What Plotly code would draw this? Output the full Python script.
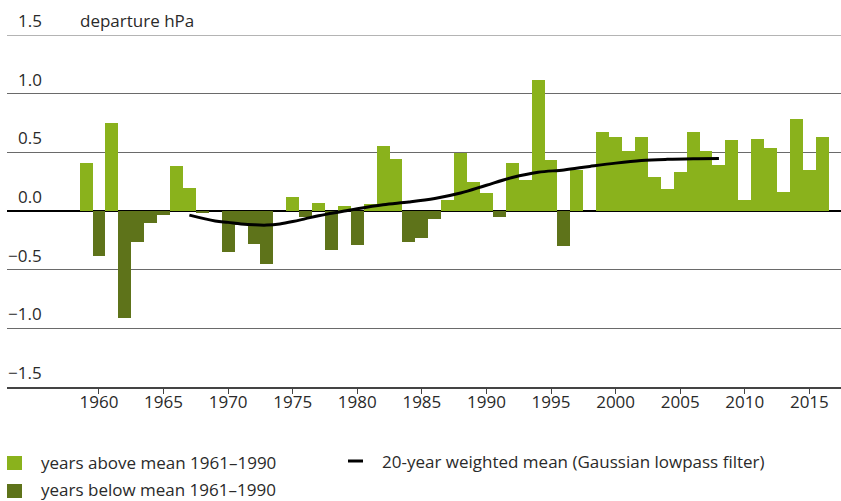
import plotly.graph_objects as go

# ---------------- data ----------------
years = list(range(1959, 2017))
departure = [
    0.41, -0.38, 0.75, -0.91, -0.26, -0.10, -0.03, 0.38, 0.20, -0.02,   # 1959-1968
    0.00, -0.35, -0.12, -0.28, -0.45, 0.00, 0.12, -0.055, 0.07, -0.33,  # 1969-1978
    0.045, -0.29, 0.06, 0.555, 0.445, -0.26, -0.23, -0.07, 0.096, 0.495,  # 1979-1988
    0.25, 0.155, -0.055, 0.41, 0.26, 1.12, 0.435, -0.30, 0.35, 0.00,   # 1989-1998
    0.675, 0.63, 0.51, 0.63, 0.29, 0.19, 0.335, 0.675, 0.51, 0.395,    # 1999-2008
    0.605, 0.09, 0.615, 0.54, 0.165, 0.78, 0.35, 0.63,                  # 2009-2016
]

smooth_years = [1967, 1969, 1970, 1971, 1972, 1973, 1974, 1975, 1976, 1977, 1978,
                1979, 1980, 1982, 1984, 1986, 1988, 1990, 1992, 1994, 1996, 1998,
                2000, 2002, 2004, 2006, 2008]
smooth_vals = [-0.035, -0.085, -0.097, -0.11, -0.118, -0.12, -0.11, -0.09, -0.065, -0.04, -0.02,
               0.0, 0.02, 0.054, 0.077, 0.107, 0.153, 0.22, 0.285, 0.33, 0.35, 0.38,
               0.408, 0.43, 0.44, 0.445, 0.447]

y_ticks = [1.5, 1.0, 0.5, 0.0, -0.5, -1.0, -1.5]
y_tick_labels = ["1.5", "1.0", "0.5", "0.0", "\u22120.5", "\u22121.0", "\u22121.5"]
x_ticks = list(range(1960, 2016, 5))

above_label = "years above mean 1961\u20131990"
below_label = "years below mean 1961\u20131990"
line_label = "20-year weighted mean (Gaussian lowpass filter)"
unit_label = "departure hPa"

# ---------------- style ----------------
GREEN_LIGHT = "#8ab21c"
GREEN_DARK = "#5e731a"
TEXT = "#2a2a2a"
GRID = "#6a6a6a"
FONT = "Open Sans"
FS = 17

W, H = 841, 501
L, R, T, B = 7, 0, 35, 114
PW, PH = W - L - R, H - T - B


def px(xp):
    return (xp - L) / PW


def py(yp):
    return (H - B - yp) / PH


above = [v if v > 0 else None for v in departure]
below = [v if v < 0 else None for v in departure]

fig = go.Figure()
fig.add_trace(go.Bar(x=years, y=above, width=1, marker=dict(color=GREEN_LIGHT, line=dict(width=0)),
                     name=above_label, showlegend=False, hoverinfo="skip"))
fig.add_trace(go.Bar(x=years, y=below, width=1, marker=dict(color=GREEN_DARK, line=dict(width=0)),
                     name=below_label, showlegend=False, hoverinfo="skip"))
fig.add_trace(go.Scatter(x=smooth_years, y=smooth_vals, mode="lines",
                         line=dict(color="black", width=3, shape="spline", smoothing=1.0),
                         name=line_label, showlegend=False, hoverinfo="skip"))

annotations = []
for v, t in zip(y_ticks, y_tick_labels):
    annotations.append(dict(x=px(44), xref="paper", y=v, yref="y", text=t, showarrow=False,
                            xanchor="right", yanchor="bottom", yshift=1,
                            font=dict(family=FONT, size=FS, color=TEXT)))
annotations.append(dict(x=px(78), xref="paper", y=1.5, yref="y", text=unit_label, showarrow=False,
                        xanchor="left", yanchor="bottom", yshift=1,
                        font=dict(family=FONT, size=FS, color=TEXT)))
# legend texts
for txt, xp, yp in [(above_label, 39, 462), (below_label, 39, 489), (line_label, 380, 461)]:
    annotations.append(dict(x=px(xp), xref="paper", y=py(yp), yref="paper", text=txt, showarrow=False,
                            xanchor="left", yanchor="middle",
                            font=dict(family=FONT, size=FS, color=TEXT)))

shapes = [
    # top grid line (at the upper end of the value range)
    dict(type="line", xref="paper", yref="y", x0=0, x1=1, y0=y_ticks[0], y1=y_ticks[0],
         line=dict(color=GRID, width=1.2), layer="below"),
    dict(type="rect", xref="paper", yref="paper", x0=px(7), x1=px(22), y0=py(470), y1=py(456),
         fillcolor=GREEN_LIGHT, line=dict(width=0)),
    dict(type="rect", xref="paper", yref="paper", x0=px(7), x1=px(22), y0=py(498), y1=py(484),
         fillcolor=GREEN_DARK, line=dict(width=0)),
    dict(type="line", xref="paper", yref="paper", x0=px(348), x1=px(363), y0=py(461), y1=py(461),
         line=dict(color="black", width=3)),
]

fig.update_layout(
    width=W, height=H,
    margin=dict(l=L, r=R, t=T, b=B, pad=0),
    paper_bgcolor="white", plot_bgcolor="white",
    barmode="overlay", bargap=0,
    showlegend=False,
    hovermode=False,
    font=dict(family=FONT, size=FS, color=TEXT),
    xaxis=dict(range=[1952.88, 2017.45], tickvals=x_ticks, ticktext=[str(x) for x in x_ticks],
               showgrid=False, zeroline=False, showline=True, linecolor="#444444", linewidth=1.5,
               ticks="outside", ticklen=5, tickcolor="#444444", tickwidth=1,
               ticklabelstandoff=-6,
               tickfont=dict(family=FONT, size=FS, color=TEXT)),
    yaxis=dict(range=[-1.5, 1.5], tickvals=y_ticks, showticklabels=False, showgrid=True,
               gridcolor=GRID, gridwidth=1.2, zeroline=True, zerolinecolor="black",
               zerolinewidth=1.5, fixedrange=True),
    annotations=annotations,
    shapes=shapes,
)

fig.write_html("out.html", config={"displayModeBar": False},
               post_script="document.body.style.margin='0px';document.body.style.padding='0px';")
